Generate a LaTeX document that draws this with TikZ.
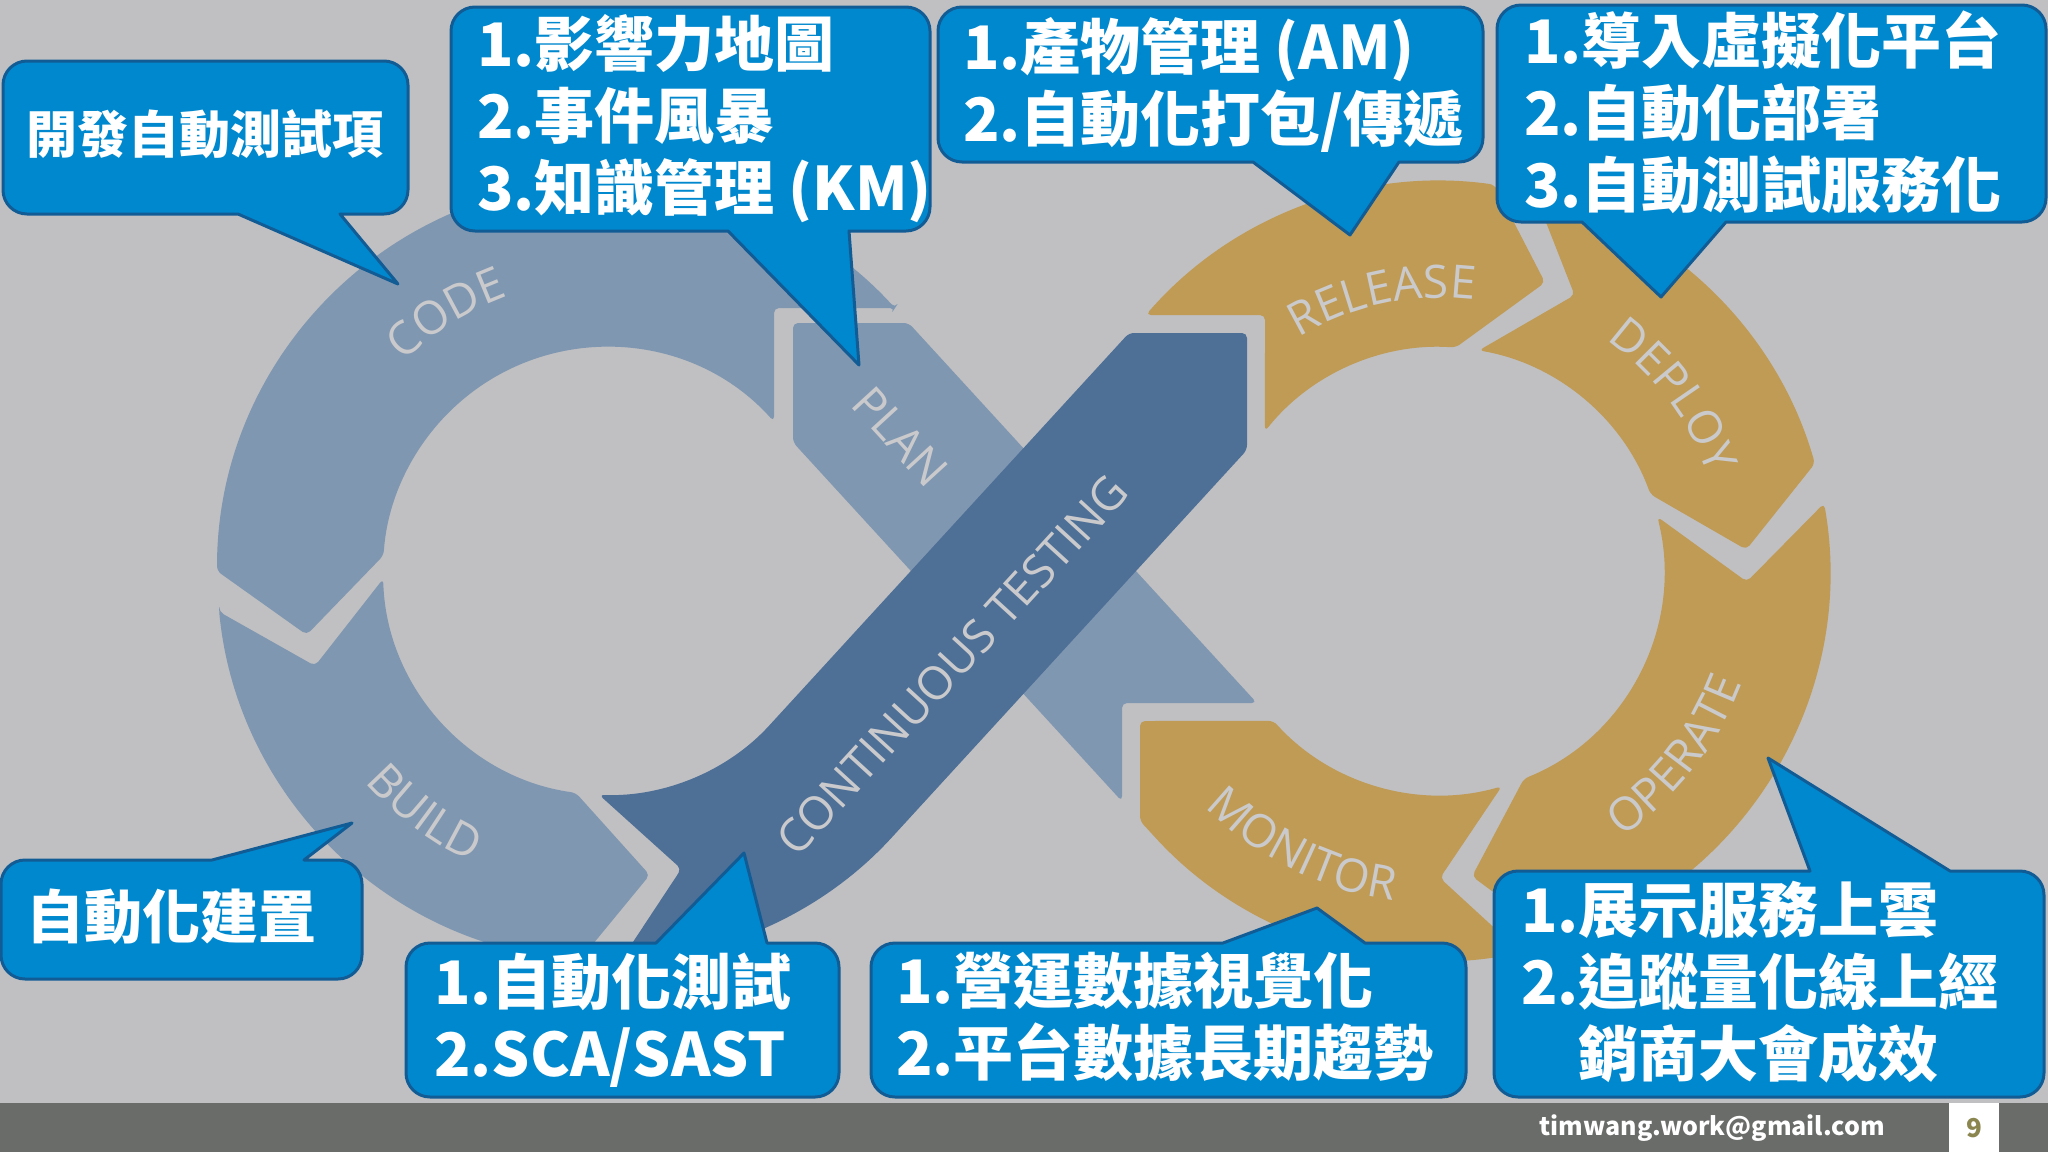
\documentclass[tikz,border=0pt]{standalone}
\usepackage{fontspec}
\setmainfont{Noto Sans CJK TC}
\newfontfamily\labfont{Open Sans}
\usetikzlibrary{decorations.text}
\definecolor{bggray}{RGB}{192,192,194}
\definecolor{footgray}{RGB}{106,108,105}
\definecolor{loopblue}{RGB}{128,151,177}
\definecolor{testblue}{RGB}{78,111,150}
\definecolor{loopgold}{RGB}{191,155,85}
\definecolor{labgray}{RGB}{202,202,204}
\definecolor{bubblefill}{RGB}{0,136,206}
\definecolor{bubbleline}{RGB}{18,92,150}
\definecolor{pageolive}{RGB}{139,134,80}
\newcommand\labstyle{\labfont\fontsize{46}{46}\selectfont}
\newcommand\bubbledown[8]{%
  \filldraw[bubble] ({#1+24},#2) -- ({#3-24},#2) arc[start angle=270,end angle=360,radius=24]
    -- (#3,{#4-24}) arc[start angle=0,end angle=90,radius=24]
    -- (#6,#4) -- (#7,#8) -- (#5,#4)
    -- ({#1+24},#4) arc[start angle=90,end angle=180,radius=24]
    -- (#1,{#2+24}) arc[start angle=180,end angle=270,radius=24] -- cycle;}
\newcommand\bubbleup[8]{%
  \filldraw[bubble] ({#1+24},#2) -- (#5,#2) -- (#7,#8) -- (#6,#2)
    -- ({#3-24},#2) arc[start angle=270,end angle=360,radius=24]
    -- (#3,{#4-24}) arc[start angle=0,end angle=90,radius=24]
    -- ({#1+24},#4) arc[start angle=90,end angle=180,radius=24]
    -- (#1,{#2+24}) arc[start angle=180,end angle=270,radius=24] -- cycle;}
\tikzset{
  bubble/.style={fill=bubblefill,draw=bubbleline,line width=3pt,line join=round},
  bubbletext/.style={text=white,font=\bfseries\fontsize{60}{72}\selectfont,align=left,inner sep=0pt,anchor=west},
  segment/.style={fill=#1,rounded corners=5pt},
  looplabel/.style={decorate,decoration={text along path,text align=center,text color=labgray,text={|\labstyle|#1}}},
  bandlabel/.style={text=labgray,font=\labstyle,inner sep=0pt}
}
\begin{document}
\begin{tikzpicture}[x=1pt,y=-1pt]
\useasboundingbox (0,0) rectangle (2048,1152);
\fill[bggray] (0,0) rectangle (2048,1152);
\coordinate (Lc) at (607,571);
\coordinate (Rc) at (1440,571);
\path[segment=loopblue] (793,323) -- (908.7,323) -- (1256.9,703) -- (1122,703) -- (1122,801.4) -- (793,442.3) -- cycle;
\path[segment=testblue] ([shift={(88:390)}]Lc) arc[start angle=88,end angle=42.5,radius=390] -- (1247,449.9) -- (1247,333) -- (1129,333)
  -- ([shift={(42.5:224)}]Lc) arc[start angle=42.5,end angle=92,radius=224] -- ([shift={(76:307)}]Lc) -- cycle;
\path[segment=loopblue] (895,308) -- (774,308) -- (774,421.7) arc[start angle=318.2,end angle=184,radius=224]
  -- ([shift={(168:307)}]Lc) -- ([shift={(180:390)}]Lc) arc[start angle=180,end angle=317.6,radius=390] -- cycle;
\path[segment=loopblue] ([shift={(174:390)}]Lc) -- ([shift={(162:307)}]Lc) -- ([shift={(178:224)}]Lc) arc[start angle=178,end angle=98,radius=224]
  -- ([shift={(82:307)}]Lc) -- ([shift={(94:390)}]Lc) arc[start angle=94,end angle=174,radius=390] -- cycle;
\path[segment=loopgold] (1145.8,315) arc[start angle=221,end angle=278,radius=390] -- ([shift={(290:307)}]Rc)
  -- ([shift={(274:224)}]Rc) arc[start angle=274,end angle=218.6,radius=224] -- (1265,315) -- cycle;
\path[segment=loopgold] ([shift={(284:390)}]Rc) arc[start angle=284,end angle=344,radius=390] -- ([shift={(356:307)}]Rc)
  -- ([shift={(340:224)}]Rc) arc[start angle=340,end angle=280,radius=224] -- ([shift={(296:307)}]Rc) -- cycle;
\path[segment=loopgold] ([shift={(350:390)}]Rc) arc[start angle=350,end angle=432,radius=390] -- ([shift={(444:307)}]Rc)
  -- ([shift={(428:224)}]Rc) arc[start angle=428,end angle=346,radius=224] -- ([shift={(362:307)}]Rc) -- cycle;
\path[segment=loopgold] ([shift={(78:390)}]Rc) arc[start angle=78,end angle=137.5,radius=390] -- (1140,820.9) -- (1140,721)
  -- ([shift={(138:224)}]Rc) arc[start angle=138,end angle=74,radius=224] -- ([shift={(90:307)}]Rc) -- cycle;
\path[looplabel=CODE] ([shift={(203:292)}]Lc) arc[start angle=203,end angle=273,radius=292];
\path[looplabel=BUILD] ([shift={(162:321)}]Lc) arc[start angle=162,end angle=92,radius=321];
\path[looplabel=RELEASE] ([shift={(223:273)}]Rc) arc[start angle=223,end angle=293,radius=273];
\path[looplabel=DEPLOY] ([shift={(288:285)}]Rc) arc[start angle=288,end angle=358,radius=285];
\path[looplabel=OPERATE] ([shift={(78:322)}]Rc) arc[start angle=78,end angle=-2,radius=322];
\path[looplabel=MONITOR] ([shift={(156:333)}]Rc) arc[start angle=156,end angle=77,radius=333];
\node[bandlabel,rotate=-47.5] (plan) at (900.5,436.8) {PLAN};
\node[bandlabel,rotate=47.5] (ctest) at (952,665) {CONTINUOUS TESTING};
\bubbledown{3}{61}{408}{214}{238}{340}{398}{284}
\bubbledown{451}{7}{930}{231}{728}{849}{859}{365}
\bubbledown{938}{7}{1483}{162}{1253}{1399}{1350}{235}
\bubbledown{1497}{5}{2046}{222}{1582}{1726}{1661}{297}
\bubbleup{1}{860}{362}{979}{212}{304}{352}{823}
\bubbleup{406}{943}{839}{1097}{656}{767}{744}{853}
\bubbleup{871}{943}{1466}{1097}{1223}{1365}{1317}{908}
\bubbleup{1494}{871}{2044}{1097}{1810}{1950}{1768}{758}
\node[bubbletext,font=\bfseries\fontsize{51}{60}\selectfont] (devtest) at (26,134) {開發自動測試項};
\node[bubbletext] (plannote) at (477,119) {1.影響力地圖\\2.事件風暴\\3.知識管理 (KM)};
\node[bubbletext] (relnote) at (963,85) {1.產物管理 (AM)\\2.自動化打包/傳遞};
\node[bubbletext] (depnote) at (1524,112) {1.導入虛擬化平台\\2.自動化部署\\3.自動測試服務化};
\node[bubbletext,font=\bfseries\fontsize{58}{70}\selectfont] (buildnote) at (26,917) {自動化建置};
\node[bubbletext] (testnote) at (434,1020) {1.自動化測試\\2.SCA/SAST};
\node[bubbletext] (monnote) at (896,1016.5) {1.營運數據視覺化\\2.平台數據長期趨勢};
\node[bubbletext] (opnote) at (1521,982) {1.展示服務上雲\\2.追蹤量化線上經\\\phantom{2.}銷商大會成效};
\fill[footgray] (0,1103) rectangle (2048,1152);
\fill[white] (1949,1103) rectangle (1999,1152);
\node[anchor=east,inner sep=0pt,text=white,font=\bfseries\fontsize{25}{25}\selectfont] (mail) at (1885,1128) {timwang.work@gmail.com};
\node[inner sep=0pt,text=pageolive,font=\bfseries\fontsize{26}{26}\selectfont] (pagenum) at (1974,1128) {9};
\end{tikzpicture}
\end{document}
